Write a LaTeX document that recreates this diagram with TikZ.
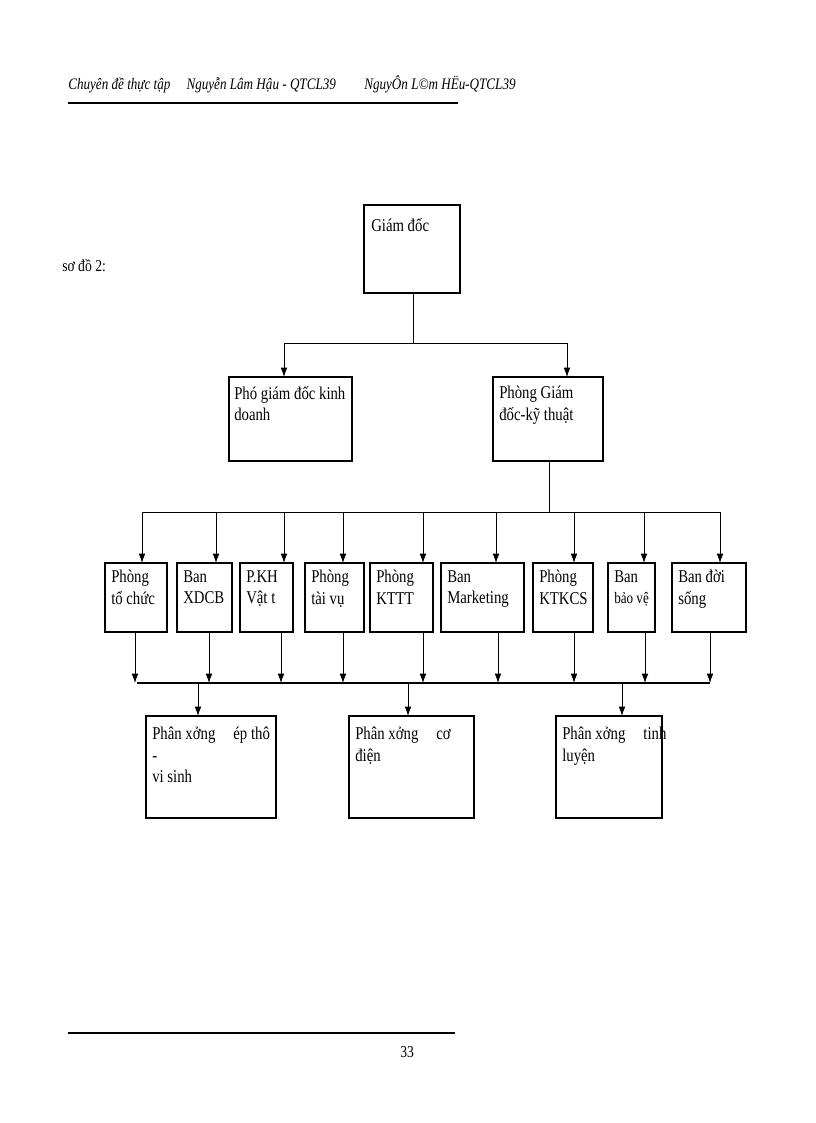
\documentclass[tikz,border=0pt]{standalone}
\usepackage{fontspec}
\setmainfont{Liberation Serif}[FakeStretch=0.82]
\usetikzlibrary{arrows.meta}
\begin{document}
\begin{tikzpicture}[x=0.75pt,y=-0.75pt,
  box/.style={draw,line width=1.1pt},
  lbl/.style={anchor=north west,align=left,inner sep=0pt,font=\fontsize{13.5}{16}\selectfont},
  arr/.style={-{Latex[length=7pt,width=5pt]},line width=0.6pt},
  ln/.style={line width=0.6pt}]
\useasboundingbox (0,0) rectangle (816,1123);
% header
\node[anchor=base west,inner sep=0pt,font=\fontsize{12}{14}\selectfont\itshape] (h1) at (68,90) {Chuyên đề thực tập\quad Nguyễn Lâm Hậu - QTCL39};
\node[anchor=base west,inner sep=0pt,font=\fontsize{12}{14}\selectfont\itshape] (h2) at (364,90) {NguyÔn L©m HËu-QTCL39};
\draw[line width=1pt] (68,103) -- (458,103);
\node[anchor=base west,inner sep=0pt,font=\fontsize{12.5}{14}\selectfont] (so) at (62,272) {sơ đồ 2:};
% footer
\draw[line width=1pt] (68,1033) -- (455,1033);
\node[anchor=base west,inner sep=0pt,font=\fontsize{12.5}{14}\selectfont] (pg) at (400,1057) {33};
% top
\draw[box] (364,205) rectangle (460,293);
\node[lbl] (gd) at (371,218) {Giám đốc};
\draw[box] (229,377) rectangle (352,461);
\node[lbl] (pgd) at (234,386) {Phó giám đốc kinh\\doanh};
\draw[box] (493,377) rectangle (603,461);
\node[lbl] (pgk) at (499,386) {Phòng Giám\\đốc-kỹ thuật};
\coordinate (a0) at (413,293); \coordinate (a1) at (413,343);
\coordinate (a2) at (284,343); \coordinate (a3) at (567,343);
\draw[ln] (a0) -- (a1); \draw[ln] (a2) -- (a3);
\draw[arr] (a2) -- (284,377);
\draw[arr] (a3) -- (567,377);
\coordinate (b0) at (549,461); \coordinate (b1) at (549,512);
\draw[ln] (b0) -- (b1);
\draw[ln] (142,512) -- (720,512);
% middle row
\foreach \l/\r/\t/\ti/\bo [count=\i] in {
 105/167/{Phòng\\tổ chức}/142/135,
 177/232/{Ban\\XDCB}/216/209,
 240/293/{P.KH\\Vật t}/284/281,
 305/364/{Phòng\\tài vụ}/343/343,
 370/433/{Phòng\\KTTT}/423/423,
 441/524/{Ban\\Marketing}/496/498,
 533/593/{Phòng\\KTKCS}/574/574,
 608/655/{Ban\\{\fontsize{12}{16}\selectfont bảo vệ}}/644/645,
 672/746/{Ban đời\\sống}/720/710}{
  \draw[box] (\l,563) rectangle (\r,632);
  \node[lbl] (m\i) at (\l+6,570) {\t};
  \draw[arr] (\ti,512) -- (\ti,563);
  \draw[arr] (\bo,632) -- (\bo,683);
}
\draw[line width=1.1pt] (137,683) -- (710,683);
% bottom
\foreach \l/\r/\t/\x [count=\i] in {
 146/276/{Phân xởng\quad ép thô\\-\\vi sinh}/198,
 349/474/{Phân xởng\quad cơ\\điện}/408,
 556/662/{Phân xởng\quad tinh\\luyện}/622}{
  \draw[box] (\l,716) rectangle (\r,818);
  \node[lbl] (p\i) at (\l+6,727) {\t};
  \draw[arr] (\x,683) -- (\x,716);
}
\end{tikzpicture}
\end{document}
